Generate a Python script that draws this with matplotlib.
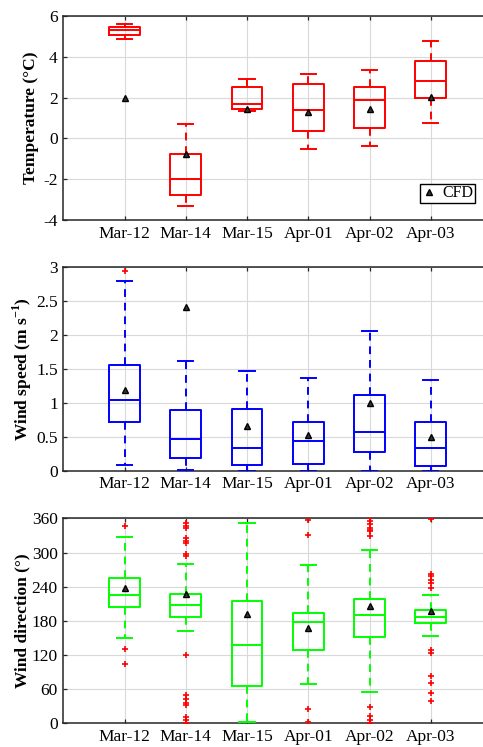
import matplotlib
matplotlib.use('Agg')
import matplotlib.pyplot as plt
from matplotlib.ticker import FormatStrFormatter

plt.rcParams['font.family'] = ['Liberation Serif', 'DejaVu Serif']
plt.rcParams['axes.unicode_minus'] = False
plt.rcParams['mathtext.fontset'] = 'custom'
plt.rcParams['mathtext.rm'] = 'Liberation Serif'
plt.rcParams['mathtext.bf'] = 'Liberation Serif:bold'

days = ['Mar-12', 'Mar-14', 'Mar-15', 'Apr-01', 'Apr-02', 'Apr-03']

# temperature (deg C)
temp_whislo = [4.87, -3.31, 1.33, -0.52, -0.37, 0.74]
temp_q1 = [5.07, -2.77, 1.44, 0.36, 0.51, 1.98]
temp_med = [5.31, -2.01, 1.70, 1.41, 1.87, 2.83]
temp_q3 = [5.48, -0.75, 2.54, 2.67, 2.50, 3.81]
temp_whishi = [5.59, 0.72, 2.90, 3.16, 3.34, 4.76]
temp_fliers = [[], [], [], [], [], []]
temp_cfd = [2.00, -0.75, 1.42, 1.28, 1.44, 2.01]

# wind speed (m/s)
ws_whislo = [0.08, 0.005, 0.0, 0.0, 0.0, 0.0]
ws_q1 = [0.72, 0.18, 0.08, 0.10, 0.28, 0.07]
ws_med = [1.04, 0.46, 0.33, 0.43, 0.57, 0.34]
ws_q3 = [1.56, 0.89, 0.90, 0.72, 1.11, 0.71]
ws_whishi = [2.79, 1.61, 1.46, 1.36, 2.06, 1.33]
ws_fliers = [[2.93], [], [], [], [], []]
ws_cfd = [1.19, 2.41, 0.66, 0.53, 1.00, 0.50]

# wind direction (deg)
wd_whislo = [149, 163, 1.8, 69, 55, 153]
wd_q1 = [205, 186, 66, 129, 151, 177]
wd_med = [226, 207, 138, 178, 190, 187]
wd_q3 = [255, 227, 214, 194, 218, 199]
wd_whishi = [327, 279, 352, 278, 304, 225]
wd_fliers = [
    [347, 130, 105],
    [352, 347, 343, 325, 321, 316, 297, 294, 120, 50, 43, 36, 32, 11, 6, 1],
    [],
    [357, 331, 25, 3],
    [360, 356, 350, 343, 340, 337, 329, 28, 12, 6, 1],
    [358, 262, 258, 252, 247, 237, 128, 124, 83, 70, 53, 39],
]
wd_cfd = [238, 228, 192, 168, 206, 198]

panels = [
    (temp_whislo, temp_q1, temp_med, temp_q3, temp_whishi, temp_fliers, temp_cfd,
     '#ff0000', 'Temperature (°C)', (-4, 6), range(-4, 7, 2)),
    (ws_whislo, ws_q1, ws_med, ws_q3, ws_whishi, ws_fliers, ws_cfd,
     '#0000ff', r'Wind speed (m s$^{\mathbf{-1}}$)', (0, 3), [0, 0.5, 1, 1.5, 2, 2.5, 3]),
    (wd_whislo, wd_q1, wd_med, wd_q3, wd_whishi, wd_fliers, wd_cfd,
     '#00ff00', 'Wind direction (°)', (0, 360), range(0, 361, 60)),
]

fig = plt.figure(figsize=(4.83, 7.47), dpi=100)
# axes run past the right edge of the picture, as in the original
rects = [[0.131, 0.7055, 0.8877, 0.2731],
         [0.131, 0.3699, 0.8877, 0.2731],
         [0.131, 0.0317, 0.8877, 0.2744]]
ylab_x = [-0.056, -0.068, -0.077]

for i, (lo, q1, med, q3, hi, fl, cfd, col, ylab, ylim, yt) in enumerate(panels):
    ax = fig.add_axes(rects[i])
    stats = [dict(whislo=lo[k], q1=q1[k], med=med[k], q3=q3[k], whishi=hi[k], fliers=fl[k])
             for k in range(len(days))]
    pos = list(range(1, len(days) + 1))
    ax.bxp(stats, positions=pos, widths=0.5, showfliers=True, capwidths=0.25,
           boxprops=dict(color=col, lw=1.4),
           medianprops=dict(color=col, lw=1.4),
           whiskerprops=dict(color=col, lw=1.4, ls=(0, (4, 3))),
           capprops=dict(color=col, lw=1.4),
           flierprops=dict(marker='+', markeredgecolor='#ff0000', markersize=4, mew=1.2, ls='none'),
           zorder=3)
    ax.plot(pos, cfd, ls='none', marker='^', ms=4.5, mfc='#333333', mec='black', mew=1.0,
            label='CFD', zorder=4)
    ax.set_xlim(0, 7)
    ax.set_ylim(*ylim)
    ax.set_xticks(pos)
    ax.set_xticklabels(days, fontsize=12.5)
    ax.set_yticks(list(yt))
    ax.yaxis.set_major_formatter(FormatStrFormatter('%g'))
    ax.tick_params(direction='in', length=3, labelsize=12.5, color='#262626', width=0.9,
                   top=True, pad=4)
    ax.grid(True, color='#d9d9d9', lw=0.8, zorder=0)
    ax.set_axisbelow(True)
    for s in ax.spines.values():
        s.set_color('#262626')
        s.set_linewidth(1.1)
    ax.set_ylabel(ylab, fontsize=12.5, fontweight='bold')
    ax.yaxis.set_label_coords(ylab_x[i], 0.5)
    if i == 0:
        ax.legend(loc='lower right', bbox_to_anchor=(0.983, 0.7282),
                  bbox_transform=fig.transFigure, borderaxespad=0, fontsize=11.5,
                  fancybox=False, edgecolor='black', framealpha=1, handlelength=1.0,
                  handletextpad=0.3, borderpad=0.1)

fig.savefig('out.png', dpi=100)
